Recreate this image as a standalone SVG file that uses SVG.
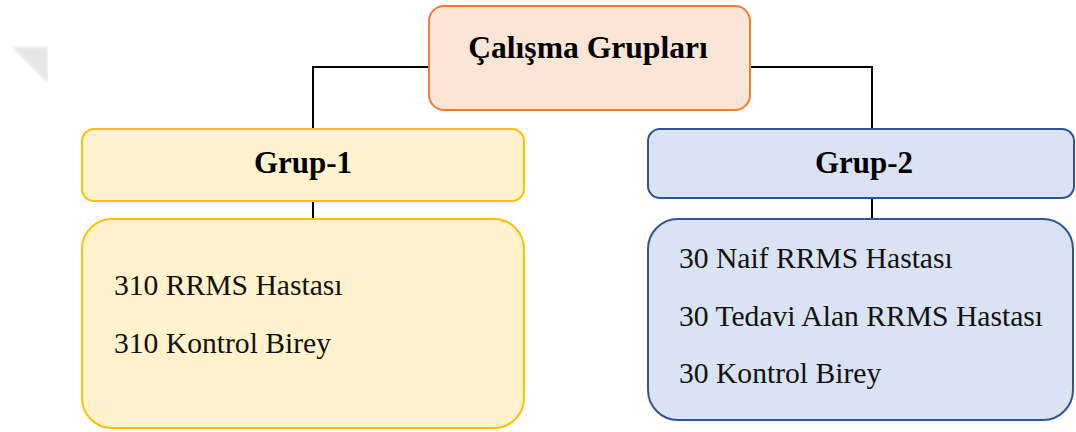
<svg xmlns="http://www.w3.org/2000/svg" width="1076" height="432" viewBox="0 0 1076 432">
  <defs>
    <filter id="soft" x="-20%" y="-20%" width="140%" height="140%">
      <feGaussianBlur stdDeviation="1.5"/>
    </filter>
  </defs>
  <style>
    .bold { font-family: "Liberation Serif", "Times New Roman", serif; font-weight: bold; font-size: 31px; fill: #000; text-anchor: middle; }
    .title { font-size: 31.6px; }
    .reg { font-family: "Liberation Serif", "Times New Roman", serif; font-size: 29.6px; fill: #111; }
    .orange { fill: #fbe5d6; stroke: #ed7d31; stroke-width: 2; }
    .yellow { fill: #fff2cc; stroke: #ffc000; stroke-width: 2; }
    .blue { fill: #dae3f3; stroke: #2f5597; stroke-width: 2; }
    .conn { fill: none; stroke: #000; stroke-width: 2; }
  </style>
  <rect width="1076" height="432" fill="#ffffff"/>
  <polygon points="12,47 48,47 48,83" fill="#e6e6e6" filter="url(#soft)"/>
  <rect x="48" y="40" width="10" height="50" fill="#ffffff"/>

  <g id="connectors">
    <polyline class="conn" points="429,67 313,67 313,129"/>
    <polyline class="conn" points="750,67 872,67 872,129"/>
    <line class="conn" x1="313" y1="201" x2="313" y2="219"/>
    <line class="conn" x1="872" y1="198" x2="872" y2="219"/>
  </g>

  <g id="calisma-gruplari">
    <rect class="orange" x="429" y="6" width="321" height="104" rx="15" ry="15"/>
    <text class="bold title" x="588" y="58">Çalışma Grupları</text>
  </g>

  <g id="grup-1">
    <rect class="yellow" x="82" y="129" width="442" height="72" rx="12" ry="12"/>
    <text class="bold" x="303" y="173">Grup-1</text>
  </g>

  <g id="grup-1-detail">
    <rect class="yellow" x="82" y="219" width="442" height="209" rx="30" ry="30"/>
    <text class="reg" x="114" y="295">310 RRMS Hastası</text>
    <text class="reg" x="114" y="353">310 Kontrol Birey</text>
  </g>

  <g id="grup-2">
    <rect class="blue" x="648" y="129" width="426" height="69" rx="12" ry="12"/>
    <text class="bold" x="864" y="173">Grup-2</text>
  </g>

  <g id="grup-2-detail">
    <rect class="blue" x="648" y="219" width="425" height="201" rx="30" ry="30"/>
    <text class="reg" x="679" y="268">30 Naif RRMS Hastası</text>
    <text class="reg" x="679" y="326">30 Tedavi Alan RRMS Hastası</text>
    <text class="reg" x="679" y="383">30 Kontrol Birey</text>
  </g>
</svg>
